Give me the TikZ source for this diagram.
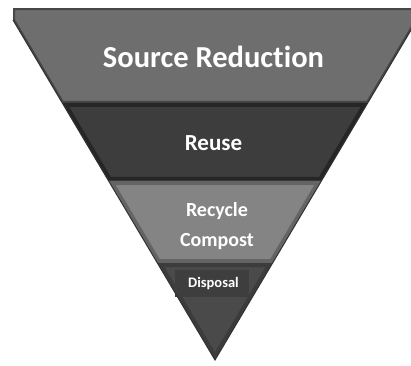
\documentclass[tikz,border=0pt]{standalone}
\usepackage{fontspec}
\setmainfont[RawFeature={-liga;-clig;-calt}]{Carlito}
\usepackage{xcolor}
\usepackage{tikz}
\usetikzlibrary{positioning, calc}
\definecolor{srfill}{HTML}{6E6E6E}
\definecolor{srline}{HTML}{474747}
\definecolor{rufill}{HTML}{3D3D3D}
\definecolor{ruline}{HTML}{262626}
\definecolor{rcfill}{HTML}{848484}
\definecolor{rcline}{HTML}{646464}
\definecolor{dpfill}{HTML}{4A4A4A}
\definecolor{dpline}{HTML}{3C3C3C}
\definecolor{dpbox}{HTML}{3E3E3E}
\tikzstyle{lbl}=[%
      text=white, font=\bfseries, inner sep=0pt, align=center
]
\tikzstyle{rim}=[%
      line width=8pt, line join=miter
]

\begin{document}
\begin{tikzpicture}[x=1pt, y=-1pt]
    \useasboundingbox (0,0) rectangle (411,365);
    \clip (0,0) rectangle (411,365);
    \coordinate (tl) at (13,8);
    \coordinate (tr) at (417,8);
    \coordinate (l0) at (13,20);
    \coordinate (r0) at (417,20);
    \coordinate (apex) at (215,360);
    \coordinate (l1) at ($(l0)!0.244!(apex)$);
    \coordinate (r1) at ($(r0)!0.244!(apex)$);
    \coordinate (l2) at ($(l0)!0.4735!(apex)$);
    \coordinate (r2) at ($(r0)!0.4735!(apex)$);
    \coordinate (l3) at ($(l0)!0.7147!(apex)$);
    \coordinate (r3) at ($(r0)!0.7147!(apex)$);

    % source reduction
    \begin{scope}
      \clip (tl) -- (tr) -- (r0) -- (r1) -- (l1) -- (l0) -- cycle;
      \fill[srfill] (tl) -- (tr) -- (r0) -- (r1) -- (l1) -- (l0) -- cycle;
      \draw[srline, line width=4pt] (tl) -- (tr) -- (r0) -- (r1) -- (l1) -- (l0) -- cycle;
    \end{scope}
    % reuse
    \begin{scope}
      \clip (l1) -- (r1) -- (r2) -- (l2) -- cycle;
      \fill[rufill] (l1) -- (r1) -- (r2) -- (l2) -- cycle;
      \draw[ruline, rim] (l1) -- (r1) -- (r2) -- (l2) -- cycle;
    \end{scope}
    % recycle
    \begin{scope}
      \clip (l2) -- (r2) -- (r3) -- (l3) -- cycle;
      \fill[rcfill] (l2) -- (r2) -- (r3) -- (l3) -- cycle;
      \draw[rcline, rim] (l2) -- (r2) -- (r3) -- (l3) -- cycle;
    \end{scope}
    % disposal
    \begin{scope}
      \clip (l3) -- (r3) -- (apex) -- cycle;
      \fill[dpfill] (l3) -- (r3) -- (apex) -- cycle;
      \draw[dpline, rim] (l3) -- (r3) -- (apex) -- cycle;
    \end{scope}
    \fill[dpbox] (175,270) rectangle (249,297);
    \draw[black!80, line width=1pt] (l0) -- (apex) -- (r0);

    \node[lbl, font=\bfseries\fontsize{30.5}{33}\selectfont] (srtext) at (213.5,57) {Source Reduction};
    \node[lbl, font=\bfseries\fontsize{23}{25}\selectfont] (rutext) at (213.5,143) {Reuse};
    \node[lbl, font=\bfseries\fontsize{20}{22}\selectfont] (rctext) at (217,211) {Recycle};
    \node[lbl, font=\bfseries\fontsize{20}{22}\selectfont] (cptext) at (217,242) {Compost};
    \node[lbl, font=\bfseries\fontsize{14.5}{16}\selectfont] (dptext) at (213.5,284) {Disposal};
\end{tikzpicture}
\end{document}
